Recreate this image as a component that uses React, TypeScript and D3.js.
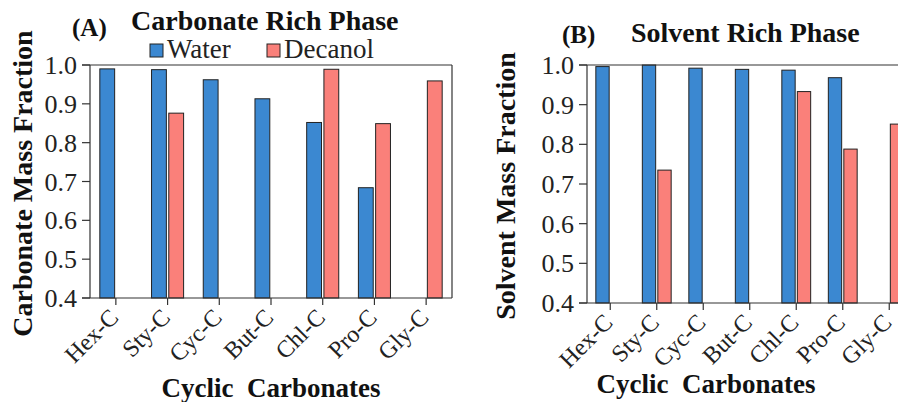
import * as d3 from 'd3';

// categories and series
const carbonates = ['Hex-C', 'Sty-C', 'Cyc-C', 'But-C', 'Chl-C', 'Pro-C', 'Gly-C'];
const seriesNames = ['Water', 'Decanol'];
const seriesColors = ['#3b88d1', '#fa807a'];

// (A) carbonate rich phase, null = no bar
const carbRichWater = [0.99, 0.988, 0.962, 0.913, 0.852, 0.684, null];
const carbRichDecanol = [null, 0.876, null, null, 0.989, 0.849, 0.959];

// (B) solvent rich phase
const solvRichWater = [0.996, 1.0, 0.992, 0.989, 0.987, 0.968, null];
const solvRichDecanol = [null, 0.735, null, null, 0.933, 0.788, 0.851];

const yTicks = [0.4, 0.5, 0.6, 0.7, 0.8, 0.9, 1.0];

const FONT = '"Liberation Serif", "Times New Roman", serif';

type PanelProps = {
  left: number;
  right: number;
  top: number;
  bottom: number;
  water: (number | null)[];
  decanol: (number | null)[];
  yTitle: string;
  yTitleX: number;
  xTitleX: number;
  xTitleY: number;
};

const Panel = ({ left, right, top, bottom, water, decanol, yTitle, yTitleX, xTitleX, xTitleY }: PanelProps) => {
  const x = d3.scaleBand().domain(carbonates).range([left, right]);
  const bw = x.bandwidth();
  const xSub = d3.scaleBand().domain(seriesNames).range([bw * 0.19, bw * 0.81]).paddingInner(0.14);
  const y = d3.scaleLinear().domain([0.4, 1.0]).range([bottom, top]);
  const series = [water, decanol];
  const axisRight = Math.min(right, 898);

  return (
    <g>
      {/* bars */}
      {series.map((vals, si) =>
        vals.map((v, i) =>
          v == null ? null : (
            <rect
              key={`${si}-${i}`}
              x={(x(carbonates[i]) as number) + (xSub(seriesNames[si]) as number)}
              y={y(v)}
              width={xSub.bandwidth()}
              height={y(0.4) - y(v)}
              fill={seriesColors[si]}
              stroke="#222"
              strokeWidth={1}
            />
          )
        )
      )}
      {/* frame */}
      <line x1={left - 8} x2={axisRight} y1={y(1.0)} y2={y(1.0)} stroke="#333" strokeWidth={1.2} />
      <line x1={left - 8} x2={axisRight} y1={y(0.4)} y2={y(0.4)} stroke="#333" strokeWidth={1.2} />
      <line x1={left} x2={left} y1={y(1.0)} y2={y(0.4)} stroke="#333" strokeWidth={1.2} />
      {right < 898 && <line x1={right} x2={right} y1={y(1.0)} y2={y(0.4)} stroke="#333" strokeWidth={1.2} />}
      {/* y ticks */}
      {yTicks.map(t => (
        <g key={t}>
          <line x1={left - 8} x2={left} y1={y(t)} y2={y(t)} stroke="#333" strokeWidth={1.2} />
          <text x={left - 13} y={y(t) + 9} textAnchor="end" fontSize={26} fontFamily={FONT} fill="#222">
            {d3.format('.1f')(t)}
          </text>
        </g>
      ))}
      {/* x ticks */}
      {carbonates.map(c => {
        const cx = (x(c) as number) + bw / 2;
        return (
          <g key={c}>
            <line x1={cx} x2={cx} y1={y(0.4)} y2={y(0.4) + 7} stroke="#333" strokeWidth={1.2} />
            <text
              transform={`translate(${cx - 2},${y(0.4) + 15}) rotate(-45)`}
              textAnchor="end"
              dy="0.35em"
              fontSize={24}
              fontFamily={FONT}
              fill="#222"
            >
              {c}
            </text>
          </g>
        );
      })}
      {/* axis titles */}
      <text
        transform={`translate(${yTitleX},${(top + bottom) / 2 + 2}) rotate(-90)`}
        textAnchor="middle"
        fontSize={28}
        fontWeight="bold"
        fontFamily={FONT}
        fill="#111"
      >
        {yTitle}
      </text>
      <text
        x={xTitleX}
        y={xTitleY}
        textAnchor="middle"
        fontSize={27}
        fontWeight="bold"
        fontFamily={FONT}
        fill="#111"
        style={{ whiteSpace: 'pre' }}
      >
        {'Cyclic  Carbonates'}
      </text>
    </g>
  );
};

const App = () => {
  return (
    <svg
      width={898}
      height={402}
      style={{ position: 'absolute', left: 0, top: 0, background: 'white' }}
    >
      <rect width={898} height={402} fill="white" />
      {/* (A) */}
      <text x={72} y={36} fontSize={25} fontWeight="bold" fontFamily={FONT} fill="#111">(A)</text>
      <text x={131} y={30} fontSize={28} fontWeight="bold" fontFamily={FONT} fill="#111">Carbonate Rich Phase</text>
      {/* legend */}
      {seriesNames.map((s, i) => {
        const lx = [150, 267][i];
        return (
          <g key={s}>
            <rect x={lx} y={44} width={13} height={13} fill={seriesColors[i]} stroke="#222" strokeWidth={1} />
            <text x={lx + 17} y={58} fontSize={27} fontFamily={FONT} fill="#222">{s}</text>
          </g>
        );
      })}
      <Panel
        left={90}
        right={452}
        top={65}
        bottom={298}
        water={carbRichWater}
        decanol={carbRichDecanol}
        yTitle="Carbonate Mass Fraction"
        yTitleX={32}
        xTitleX={271}
        xTitleY={397}
      />
      {/* (B) */}
      <text x={562} y={43} fontSize={25} fontWeight="bold" fontFamily={FONT} fill="#111">(B)</text>
      <text x={631} y={42} fontSize={28} fontWeight="bold" fontFamily={FONT} fill="#111">Solvent Rich Phase</text>
      <Panel
        left={587}
        right={912.5}
        top={65}
        bottom={303}
        water={solvRichWater}
        decanol={solvRichDecanol}
        yTitle="Solvent Mass Fraction"
        yTitleX={515}
        xTitleX={706}
        xTitleY={393}
      />
    </svg>
  );
};

export default App;
